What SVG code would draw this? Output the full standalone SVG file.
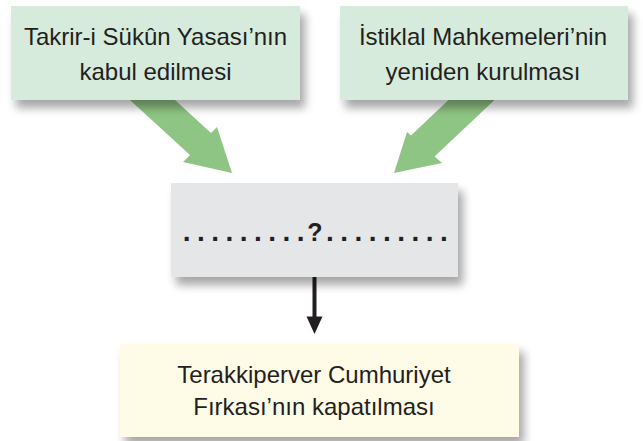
<svg xmlns="http://www.w3.org/2000/svg" width="643" height="441" viewBox="0 0 643 441">
<defs>
<filter id="sh" x="-10%" y="-20%" width="125%" height="160%">
<feGaussianBlur in="SourceAlpha" stdDeviation="5"/>
<feOffset dx="5" dy="8" result="b"/>
<feComponentTransfer><feFuncA type="linear" slope="0.35"/></feComponentTransfer>
<feMerge><feMergeNode/><feMergeNode in="SourceGraphic"/></feMerge>
</filter>
</defs>
<style>
.t{font-family:"Liberation Sans",Arial,sans-serif;font-size:24px;fill:#231f20;text-anchor:middle}
.q{font-family:"Liberation Sans",Arial,sans-serif;font-weight:bold;fill:#231f20;text-anchor:middle}
.ga{fill:#8fc584}
</style>
<rect width="643" height="441" fill="#ffffff"/>
<g id="connectors">
<polygon class="ga" points="125.6,96 170.6,96 211,133 217,127 232,173 183,162 190,155"/>
<polygon class="ga" points="452.7,96 498.7,96 434.6,156.5 442,163 394,173 407,132 411,135.5"/>
<rect x="312.5" y="276" width="4" height="42" fill="#231f20"/>
<polygon points="306.5,316.5 322.5,316.5 314.5,334" fill="#231f20"/>
</g>
<g id="node-takrir">
<rect x="11" y="6" width="289" height="94" fill="#d6ebdc" filter="url(#sh)"/>
<text class="t" x="155.5" y="45">Takrir-i Sükûn Yasası’nın</text>
<text class="t" x="155.5" y="80">kabul edilmesi</text>
</g>
<g id="node-istiklal">
<rect x="340" y="6" width="288" height="94" fill="#d6ebdc" filter="url(#sh)"/>
<text class="t" x="483" y="45">İstiklal Mahkemeleri’nin</text>
<text class="t" x="483" y="80">yeniden kurulması</text>
</g>
<g id="node-question">
<rect x="171" y="183" width="287" height="94" fill="#e5e6e8" filter="url(#sh)"/>
<text class="q" y="241" font-size="28" x="186.7 200.95 215.2 229.45 243.7 257.95 272.2 286.45 300.7">.........</text>
<text class="q" y="241" font-size="25" x="315">?</text>
<text class="q" y="241" font-size="28" x="330 344.25 358.5 372.75 387 401.25 415.5 429.75 444">.........</text>
</g>
<g id="node-terakkiperver">
<rect x="120" y="344" width="399" height="93" fill="#fefbe6" filter="url(#sh)"/>
<text class="t" x="314" y="383">Terakkiperver Cumhuriyet</text>
<text class="t" x="314" y="415">Fırkası’nın kapatılması</text>
</g>
</svg>
